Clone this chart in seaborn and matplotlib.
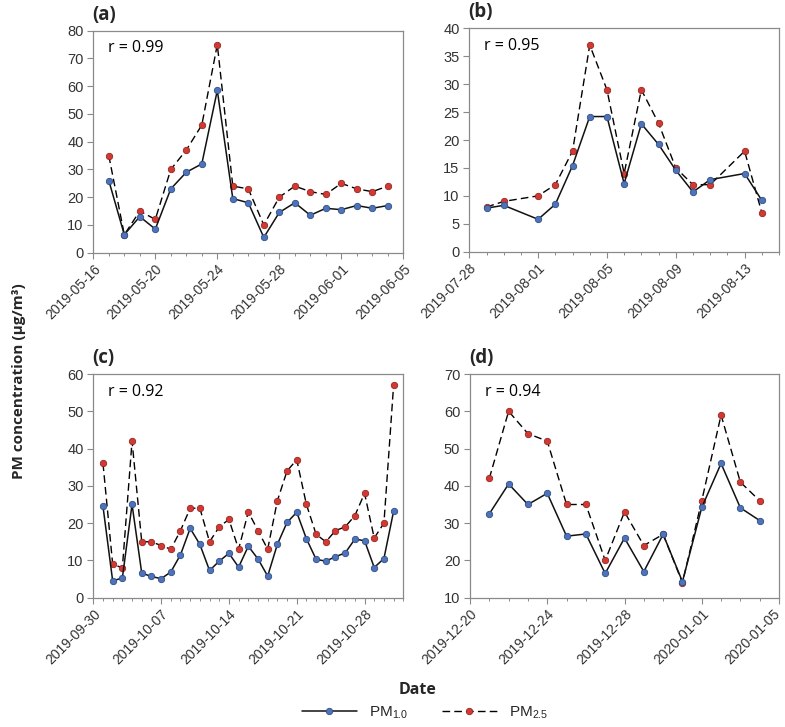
import numpy as np
import pandas as pd
import matplotlib
matplotlib.use("Agg")
import matplotlib.pyplot as plt
import matplotlib.transforms as mtransforms
from matplotlib.lines import Line2D
import seaborn as sns

sns.set_style("white")
plt.rcParams["font.family"] = ["Liberation Sans", "DejaVu Sans"]
plt.rcParams["mathtext.fontset"] = "custom"
plt.rcParams["mathtext.rm"] = "Liberation Sans"

# ---------------- data ----------------
dates_a = pd.date_range("2019-05-17", "2019-06-04", freq="D")
pm1_a = [26, 6.5, 13, 8.5, 23, 29, 32, 58.5, 19.5, 18, 5.5, 14.5, 18, 13.5, 16, 15.5, 17, 16, 17]
pm25_a = [35, 6.5, 15, 12, 30, 37, 46, 75, 24, 23, 10, 20, 24, 22, 21, 25, 23, 22, 24]

dates_b = pd.to_datetime(["2019-07-29", "2019-07-30", "2019-08-01", "2019-08-02", "2019-08-03",
                          "2019-08-04", "2019-08-05", "2019-08-06", "2019-08-07", "2019-08-08",
                          "2019-08-09", "2019-08-10", "2019-08-11", "2019-08-13", "2019-08-14"])
pm1_b = [7.8, 8.3, 5.8, 8.5, 15.4, 24.2, 24.2, 12.2, 22.9, 19.2, 14.6, 10.7, 12.9, 14, 9.2]
pm25_b = [8, 9, 10, 12, 18, 37, 29, 14, 29, 23, 15, 12, 12, 18, 7]

dates_c = pd.date_range("2019-10-01", "2019-10-31", freq="D")
pm1_c = [24.5, 4.5, 5.3, 25, 6.6, 5.7, 5.1, 6.9, 11.5, 18.6, 14.3, 7.3, 9.8, 11.9, 8.2, 13.8,
         10.4, 5.8, 14.3, 20.2, 22.9, 15.8, 10.3, 9.8, 11, 12, 15.7, 15.3, 8.1, 10.5, 23.2]
pm25_c = [36, 9, 8, 42, 15, 15, 14, 13, 18, 24, 24, 15, 19, 21, 13, 23,
          18, 13, 26, 34, 37, 25, 17, 15, 18, 19, 22, 28, 16, 20, 57]

dates_d = pd.date_range("2019-12-21", "2020-01-04", freq="D")
pm1_d = [32.5, 40.5, 35, 38, 26.5, 27.1, 16.5, 26, 17, 27, 14.3, 34.2, 46, 34.1, 30.7]
pm25_d = [42, 60, 54, 52, 35, 35, 20, 33, 24, 27, 14, 36, 59, 41, 36]

panel_labels = ["(a)", "(b)", "(c)", "(d)"]
r_labels = ["r = 0.99", "r = 0.95", "r = 0.92", "r = 0.94"]
x_ranges = [("2019-05-16", "2019-06-05", "4D"), ("2019-07-28", "2019-08-15", "4D"),
            ("2019-09-30", "2019-11-01", "7D"), ("2019-12-20", "2020-01-05", "4D")]
y_ranges = [(0, 80, 10), (0, 40, 5), (0, 60, 10), (10, 70, 10)]
series_labels = [r"PM$_{\mathregular{1.0}}$", r"PM$_{\mathregular{2.5}}$"]

datasets = [(dates_a, pm1_a, pm25_a), (dates_b, pm1_b, pm25_b),
            (dates_c, pm1_c, pm25_c), (dates_d, pm1_d, pm25_d)]

# ---------------- styling ----------------
W, H = 785, 727
fig = plt.figure(figsize=(W / 100, H / 100), dpi=100)

boxes = [(93.3, 30.7, 403.3, 252.7), (469.3, 28.3, 779, 251.7),
         (93.3, 374, 403.3, 597.7), (470, 374, 779, 597.7)]

blue_face, blue_edge = "#4f73b8", "#2f4f8a"
red_face, red_edge = "#d03a32", "#9a2422"
spine_col = "#8a8a8a"
tick_text = "#333333"
ms = 4.6

for i, (box, data) in enumerate(zip(boxes, datasets)):
    l, t, r, b = box
    ax = fig.add_axes([l / W, 1 - b / H, (r - l) / W, (b - t) / H])
    d, p1, p25 = data
    df = pd.DataFrame({"date": d, "pm1": p1, "pm25": p25})

    sns.lineplot(data=df, x="date", y="pm25", ax=ax, color="black", linewidth=1.0,
                 linestyle=(0, (5.5, 3)), marker="o", markersize=ms,
                 markerfacecolor=red_face, markeredgecolor=red_edge,
                 markeredgewidth=0.6, zorder=3)
    sns.lineplot(data=df, x="date", y="pm1", ax=ax, color="#111111", linewidth=1.1,
                 marker="o", markersize=ms, markerfacecolor=blue_face,
                 markeredgecolor=blue_edge, markeredgewidth=0.6, zorder=4)

    x0, x1, step = x_ranges[i]
    ax.set_xlim(pd.Timestamp(x0), pd.Timestamp(x1))
    major = pd.date_range(x0, x1, freq=step)
    minor = pd.date_range(x0, x1, freq="D")
    ax.set_xticks(major)
    ax.set_xticks(minor, minor=True)
    texts = [m.strftime("%Y-%m-%d") for m in major]
    last_manual = (i == 3)
    shown = texts[:-1] + [""] if last_manual else texts
    ax.set_xticklabels(shown, rotation=45, ha="right", va="top",
                       rotation_mode="anchor", fontsize=10, color=tick_text)
    if last_manual:
        off = mtransforms.ScaledTranslation(-6 / 100, -9 / 100, fig.dpi_scale_trans)
        ax.text(major[-1], 0, texts[-1], transform=ax.get_xaxis_transform() + off,
                rotation=45, ha="right", va="top", rotation_mode="anchor",
                fontsize=10, color=tick_text, clip_on=False)

    y0, y1, ys = y_ranges[i]
    ax.set_ylim(y0, y1)
    yt = np.arange(y0, y1 + ys / 2, ys)
    ax.set_yticks(yt)
    ax.set_yticklabels([f"{v:g}" for v in yt], fontsize=10.5, color=tick_text)

    ax.set_xlabel("")
    ax.set_ylabel("")
    for s in ax.spines.values():
        s.set_color(spine_col)
        s.set_linewidth(0.9)
    ax.tick_params(axis="both", which="major", direction="out", length=4,
                   width=0.8, color=spine_col, pad=3, bottom=True, left=True)
    ax.tick_params(axis="x", which="major", pad=2.5)
    ax.tick_params(axis="x", which="minor", direction="out", length=2.5,
                   width=0.7, color=spine_col, bottom=True)
    if ax.get_legend():
        ax.get_legend().remove()

    ax.text(0.048, 0.92, r_labels[i], transform=ax.transAxes, fontsize=11.5,
            family=["Open Sans", "DejaVu Sans"], va="center", ha="left", color="black")
    ax.text(-0.003, 1.072, panel_labels[i], transform=ax.transAxes,
            fontsize=13.5, family=["Open Sans", "DejaVu Sans"], fontweight="bold",
            va="center", ha="left")

fig.text(418 / W, 1 - 690 / H, "Date", ha="center", va="center", fontsize=11.5,
         family=["Open Sans", "DejaVu Sans"], fontweight="bold")
fig.text(19 / W, 1 - 381 / H, "PM concentration (μg/m³)", ha="center", va="center",
         rotation=90, fontsize=11, family=["Open Sans", "DejaVu Sans"], fontweight="bold")

handles = [
    Line2D([], [], color="#111111", linewidth=1.1, marker="o", markersize=ms,
           markerfacecolor=blue_face, markeredgecolor=blue_edge, markeredgewidth=0.6),
    Line2D([], [], color="black", linewidth=1.0, linestyle=(0, (5.5, 3)), marker="o",
           markersize=ms, markerfacecolor=red_face, markeredgecolor=red_edge,
           markeredgewidth=0.6),
]
fig.legend(handles, series_labels, loc="center", bbox_to_anchor=(425 / W, 1 - 713 / H),
           ncol=2, frameon=False, fontsize=11, handlelength=3.6, columnspacing=2.2,
           handletextpad=0.8)

fig.savefig("out.png", dpi=100)
